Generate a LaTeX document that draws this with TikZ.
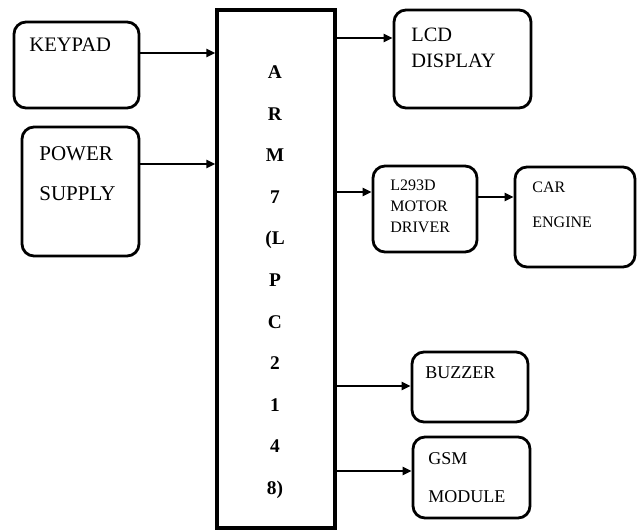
\documentclass[tikz,border=0pt]{standalone}
\usepackage{fontspec}
\setmainfont{Liberation Serif}
\usetikzlibrary{arrows.meta}
\begin{document}
\begin{tikzpicture}[x=0.5pt,y=-0.5pt,
    blkBox/.style={rectangle,rounded corners=6pt,draw=black,line width=1.4pt,inner sep=0pt},
    armBox/.style={rectangle,draw=black,line width=1.6pt,inner sep=0pt,minimum width=59pt,minimum height=259pt},
    blkText/.style={anchor=base west,inner sep=0pt,align=left},
    blkArrow/.style={-{Triangle[length=4.5pt,width=4pt]},line width=1.1pt},
]
\useasboundingbox (0,0) rectangle (638,531);
% blocks
\node[armBox] (arm) at (276,269) {};
\node[blkBox,minimum width=62.5pt,minimum height=43pt] (keypad) at (76.5,65) {};
\node[blkBox,minimum width=58.5pt,minimum height=64.5pt] (power) at (80.5,191.5) {};
\node[blkBox,minimum width=68.5pt,minimum height=49pt] (lcd) at (462.5,59) {};
\node[blkBox,minimum width=52pt,minimum height=43pt] (motor) at (425,209) {};
\node[blkBox,minimum width=60pt,minimum height=50pt] (car) at (575,217) {};
\node[blkBox,minimum width=58pt,minimum height=35pt] (buzzer) at (470,387) {};
\node[blkBox,minimum width=58.5pt,minimum height=40.5pt] (gsm) at (471.5,477.5) {};
% texts (base = last line)
\node[anchor=base,inner sep=0pt,align=center,font=\fontsize{9.7}{20.8}\selectfont\bfseries] (armTxt) at (275,494.5)
    {A\\R\\M\\7\\(L\\P\\C\\2\\1\\4\\8)};
\node[blkText,font=\fontsize{10.3}{12}\selectfont] (keypadTxt) at (29,51.8) {KEYPAD};
\node[blkText,font=\fontsize{10.5}{20}\selectfont] (powerTxt) at (39,200) {POWER\\SUPPLY};
\node[blkText,font=\fontsize{10.2}{13}\selectfont] (lcdTxt) at (411,67.7) {LCD\\DISPLAY};
\node[blkText,font=\fontsize{8}{10.5}\selectfont] (motorTxt) at (390,232.3) {L293D\\MOTOR\\DRIVER};
\node[blkText,font=\fontsize{8}{17.5}\selectfont] (carTxt) at (532,227.3) {CAR\\ENGINE};
\node[blkText,font=\fontsize{9}{12}\selectfont] (buzzerTxt) at (425,378) {BUZZER};
\node[blkText,font=\fontsize{9}{19}\selectfont] (gsmTxt) at (428,502) {GSM\\MODULE};
% arrows
\draw[blkArrow] (keypad.east) ++(0,6pt) coordinate (keypadOut) -- (keypadOut -| arm.west);
\draw[blkArrow] (power.east) ++(0,13.75pt) coordinate (powerOut) -- (powerOut -| arm.west);
\path (lcd.west) ++(0,10.5pt) coordinate (lcdIn);
\draw[blkArrow] (arm.east |- lcdIn) -- (lcdIn);
\path (motor.west) ++(0,8.5pt) coordinate (motorIn);
\draw[blkArrow] (arm.east |- motorIn) -- (motorIn);
\draw[blkArrow] (motor.east) ++(0,6pt) coordinate (motorOut) -- (motorOut -| car.west);
\path (buzzer.west) ++(0,0.5pt) coordinate (buzzerIn);
\draw[blkArrow] (arm.east |- buzzerIn) -- (buzzerIn);
\path (gsm.west) ++(0,3.25pt) coordinate (gsmIn);
\draw[blkArrow] (arm.east |- gsmIn) -- (gsmIn);
\end{tikzpicture}
\end{document}
